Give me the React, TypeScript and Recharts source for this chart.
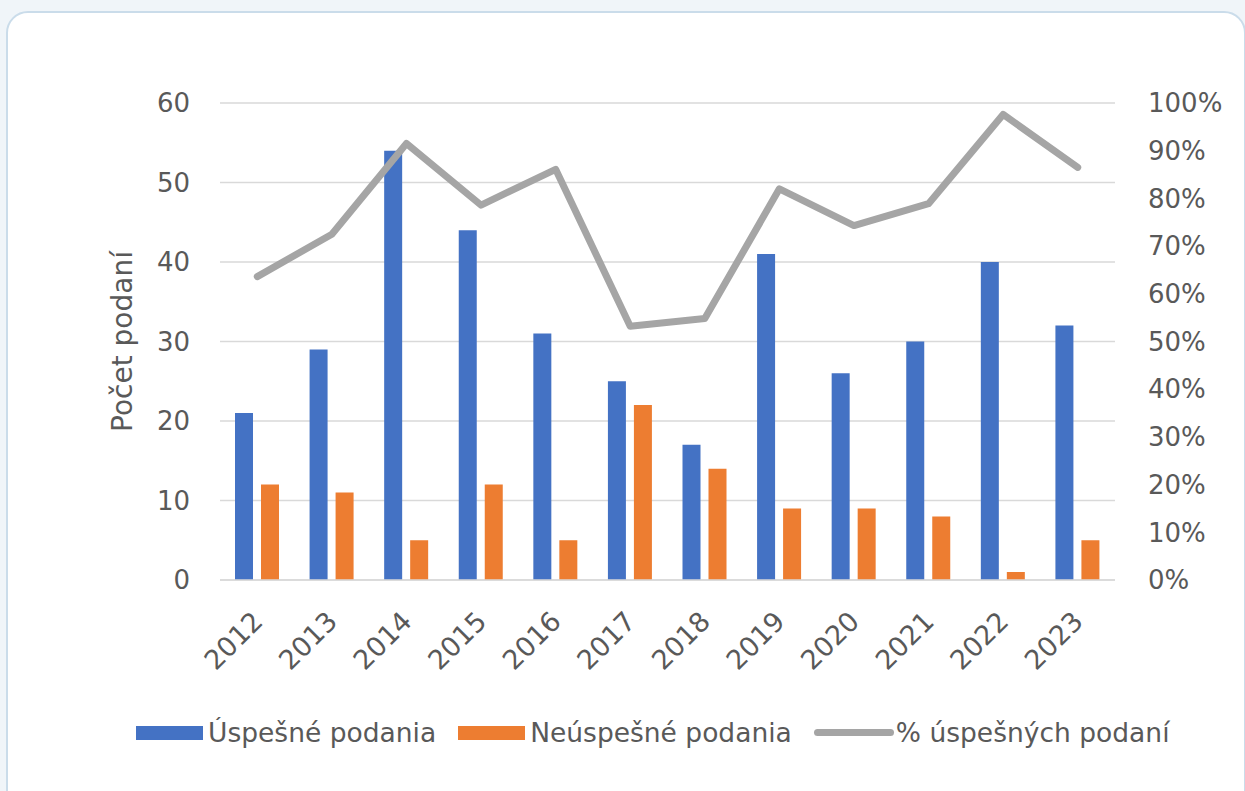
import { ComposedChart, Bar, Line, XAxis, YAxis, CartesianGrid, Legend } from 'recharts';

const years = ['2012', '2013', '2014', '2015', '2016', '2017', '2018', '2019', '2020', '2021', '2022', '2023'];
const successful = [21, 29, 54, 44, 31, 25, 17, 41, 26, 30, 40, 32];
const unsuccessful = [12, 11, 5, 12, 5, 22, 14, 9, 9, 8, 1, 5];
const successRate = [0.636, 0.725, 0.915, 0.786, 0.861, 0.532, 0.548, 0.82, 0.743, 0.789, 0.976, 0.865];

const countTicks = [0, 10, 20, 30, 40, 50, 60];
const rateTicks = [0, 0.1, 0.2, 0.3, 0.4, 0.5, 0.6, 0.7, 0.8, 0.9, 1];

const data = years.map((year, i) => ({
  year,
  ok: successful[i],
  fail: unsuccessful[i],
  rate: successRate[i],
}));

const BLUE = '#4472C4';
const ORANGE = '#ED7D31';
const GREY = '#A5A5A5';
const TEXT = '#595959';
const FONT = '"DejaVu Sans", sans-serif';

function YearTick({ x, y, payload }: any) {
  return (
    <text
      x={x + 7}
      y={y + 35}
      transform={`rotate(-45, ${x + 7}, ${y + 35})`}
      textAnchor="end"
      fill={TEXT}
      fontSize={27}
      fontFamily={FONT}
    >
      {payload.value}
    </text>
  );
}

function LegendContent() {
  const items = [
    { label: 'Úspešné podania', color: BLUE, kind: 'rect' },
    { label: 'Neúspešné podania', color: ORANGE, kind: 'rect' },
    { label: '% úspešných podaní', color: GREY, kind: 'line' },
  ];
  return (
    <div style={{ display: 'flex', alignItems: 'center', fontFamily: FONT, fontSize: 26.5, color: TEXT }}>
      {items.map((it) => (
        <div key={it.label} style={{ display: 'flex', alignItems: 'center', marginRight: 22 }}>
          {it.kind === 'rect' ? (
            <span style={{ display: 'inline-block', width: 67, height: 14, background: it.color, marginRight: 5 }} />
          ) : (
            <span style={{ display: 'inline-block', width: 80, height: 7, borderRadius: 4, background: it.color, marginRight: 2 }} />
          )}
          <span>{it.label}</span>
        </div>
      ))}
    </div>
  );
}

export default function App() {
  return (
    <div style={{ position: 'fixed', inset: 0, background: '#f0f5f9' }}>
      <div
        style={{
          position: 'absolute',
          left: 6,
          top: 11,
          width: 1236,
          height: 820,
          background: '#ffffff',
          border: '2px solid #cadcea',
          borderRadius: 22,
        }}
      />
      <div style={{ position: 'absolute', left: 0, top: 0 }}>
        <ComposedChart
          width={1245}
          height={791}
          data={data}
          margin={{ top: 103, right: 0, bottom: 201, left: 0 }}
          barSize={18}
          barGap={8}
        >
          <CartesianGrid vertical={false} stroke="#d9d9d9" strokeWidth={1.5} yAxisId="left" />
          <XAxis
            dataKey="year"
            axisLine={{ stroke: '#d9d9d9', strokeWidth: 1.5 }}
            tickLine={false}
            interval={0}
            tick={<YearTick />}
            height={10}
          />
          <YAxis
            yAxisId="left"
            domain={[0, 60]}
            ticks={countTicks}
            axisLine={false}
            tickLine={false}
            width={220}
            tickMargin={24}
            tick={{ fill: TEXT, fontSize: 26, fontFamily: FONT }}
            label={{
              value: 'Počet podaní',
              angle: -90,
              position: 'insideLeft',
              offset: 122,
              style: { textAnchor: 'middle', fill: TEXT, fontSize: 28, fontFamily: FONT },
            }}
          />
          <YAxis
            yAxisId="right"
            orientation="right"
            domain={[0, 1]}
            ticks={rateTicks}
            axisLine={false}
            tickLine={false}
            width={130}
            tickMargin={27}
            tickFormatter={(v: number) => `${Math.round(v * 100)}%`}
            tick={{ fill: TEXT, fontSize: 26, fontFamily: FONT, textAnchor: 'start' }}
          />
          <Bar yAxisId="left" dataKey="ok" name="Úspešné podania" fill={BLUE} isAnimationActive={false} />
          <Bar yAxisId="left" dataKey="fail" name="Neúspešné podania" fill={ORANGE} isAnimationActive={false} />
          <Line
            yAxisId="right"
            dataKey="rate"
            name="% úspešných podaní"
            stroke={GREY}
            strokeWidth={7}
            strokeLinecap="round"
            strokeLinejoin="round"
            dot={false}
            activeDot={false}
            type="linear"
            isAnimationActive={false}
          />
          <Legend
            layout="horizontal"
            verticalAlign="middle"
            align="center"
            content={<LegendContent />}
            wrapperStyle={{ top: 717, left: 136, width: 1100, height: 34 }}
          />
        </ComposedChart>
      </div>
    </div>
  );
}
